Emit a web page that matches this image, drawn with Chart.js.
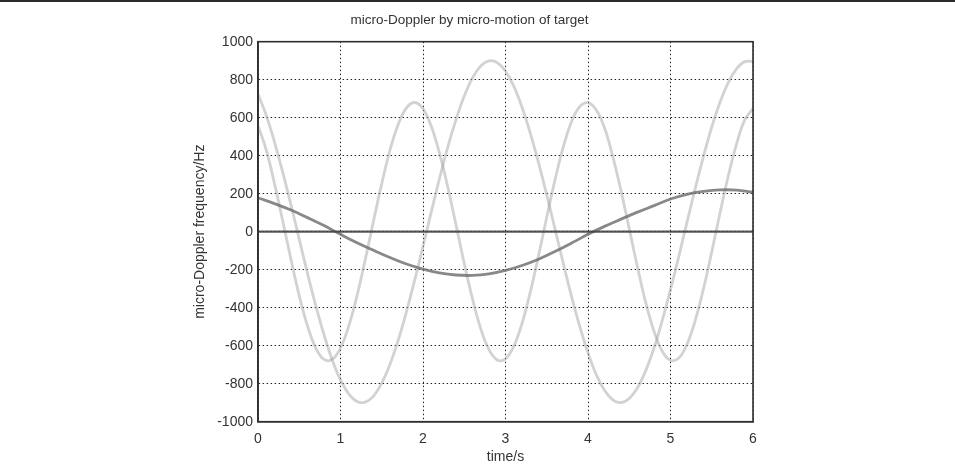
<!DOCTYPE html>
<html>
<head>
<meta charset="utf-8">
<script src="https://cdn.jsdelivr.net/npm/chart.js@4/dist/chart.umd.min.js"></script>
<style>
  html, body { margin: 0; padding: 0; background: #fff; }
  #wrap { position: relative; width: 955px; height: 476px; overflow: hidden; }
  #topline { position: absolute; left: 0; top: 0; width: 955px; height: 2px; background: #2a2a2a; }
  canvas { position: absolute; left: 0; top: 0; }
</style>
</head>
<body>
<div id="wrap">
  <canvas id="c" width="955" height="476"></canvas>
  <div id="topline"></div>
</div>
<script>
// ---- data ----
const timesFast = [0,0.1,0.2,0.3,0.4,0.5,0.6,0.7,0.8,0.9,1.0,1.1,1.2,1.3,1.4,1.5,1.6,1.7,1.8,1.9,2.0,2.1,2.2,2.3,2.4,2.5,2.6,2.7,2.8,2.9,3.0,3.1,3.2,3.3,3.4,3.5,3.6,3.7,3.8,3.9,4.0,4.1,4.2,4.3,4.4,4.5,4.6,4.7,4.8,4.9,5.0,5.1,5.2,5.3,5.4,5.5,5.6,5.7,5.8,5.9,6.0];
// large-amplitude component (~±900 Hz)
const seriesA = [725,612,472,312,140,-40,-219,-389,-542,-675,-780,-854,-894,-897,-865,-797,-698,-571,-420,-254,-77,103,280,445,590,714,810,872,899,890,845,766,655,519,364,194,14,-166,-340,-498,-638,-752,-835,-885,-900,-878,-821,-731,-612,-467,-305,-131,50,228,397,551,681,785,857,895,896];
// medium-amplitude component (~±680 Hz)
const seriesB = [558,430,253,56,-147,-337,-496,-612,-672,-672,-612,-496,-337,-147,56,253,430,566,652,680,647,555,413,235,36,-167,-354,-511,-621,-675,-669,-603,-483,-319,-127,77,273,445,579,658,679,640,547,397,216,15,-187,-373,-524,-629,-677,-665,-593,-467,-300,-106,98,293,461,589,648];
// slow body component (~±225 Hz)
const timesSlow = [0,0.2,0.4,0.6,0.8,1.0,1.2,1.4,1.6,1.8,2.0,2.2,2.4,2.6,2.8,3.0,3.2,3.4,3.6,3.8,4.0,4.2,4.4,4.6,4.8,5.0,5.2,5.4,5.6,5.8,6.0];
const seriesSlow = [178,148,114,74,32,-14,-58,-98,-136,-170,-197,-217,-228,-230,-222,-204,-178,-145,-104,-60,-14,28,66,103,137,172,197,212,220,219,208];
// zero-Doppler line
const timesZero = [0,6];
const seriesZero = [0,0];
const xTicks = [0,1,2,3,4,5,6];
const yTicks = [-1000,-800,-600,-400,-200,0,200,400,600,800,1000];

const toPts = (xs, ys) => xs.map((x, i) => ({x: x, y: ys[i]}));

const framePlugin = {
  id: 'frame',
  afterDatasetsDraw(chart) {
    const a = chart.chartArea, ctx = chart.ctx;
    ctx.save();
    ctx.strokeStyle = '#2e2e2e';
    ctx.lineWidth = 1.6;
    ctx.strokeRect(a.left, a.top, a.right - a.left, a.bottom - a.top);
    ctx.restore();
  }
};

const FONT = "'Liberation Sans', Arial, Helvetica, sans-serif";

new Chart(document.getElementById('c'), {
  type: 'line',
  data: {
    datasets: [
      { data: toPts(timesFast, seriesA), borderColor: 'rgba(165,165,165,0.5)', borderWidth: 2.8, pointRadius: 0, tension: 0.4, order: 4 },
      { data: toPts(timesFast, seriesB), borderColor: 'rgba(165,165,165,0.5)', borderWidth: 2.8, pointRadius: 0, tension: 0.4, order: 3 },
      { data: toPts(timesSlow, seriesSlow), borderColor: 'rgba(115,115,115,0.85)', borderWidth: 2.8, pointRadius: 0, tension: 0.4, order: 2 },
      { data: toPts(timesZero, seriesZero), borderColor: 'rgba(70,70,70,0.9)', borderWidth: 2.2, pointRadius: 0, tension: 0, order: 1 }
    ]
  },
  options: {
    responsive: false,
    animation: false,
    events: [],
    layout: { padding: { left: 186, right: 202, top: 4, bottom: 8 } },
    plugins: {
      legend: { display: false },
      tooltip: { enabled: false },
      title: {
        display: true,
        text: 'micro-Doppler by micro-motion of target',
        color: '#333',
        font: { family: FONT, size: 13.5, weight: 'normal' },
        padding: { top: 8, bottom: 13.5 }
      }
    },
    scales: {
      x: {
        type: 'linear', min: 0, max: 6,
        afterFit(s) { s.height = 46.3; },
        afterBuildTicks(s) { s.ticks = xTicks.map(v => ({value: v})); },
        ticks: { color: '#333', font: { family: FONT, size: 14 }, padding: 9, maxRotation: 0, callback: v => String(v) },
        grid: { color: '#222', lineWidth: 1, drawTicks: false },
        border: { display: true, color: '#2e2e2e', width: 1.6, dash: [1.5, 2.5] },
        title: { display: true, text: 'time/s', color: '#333', font: { family: FONT, size: 14 }, padding: { top: 0, bottom: 2 } }
      },
      y: {
        type: 'linear', min: -1000, max: 1000,
        afterFit(s) { s.width = 72; },
        afterBuildTicks(s) { s.ticks = yTicks.map(v => ({value: v})); },
        ticks: { color: '#333', font: { family: FONT, size: 14 }, padding: 5, callback: v => String(v) },
        grid: { color: '#222', lineWidth: 1, drawTicks: false },
        border: { display: true, color: '#2e2e2e', width: 1.6, dash: [1.5, 2.5] },
        title: { display: true, text: 'micro-Doppler frequency/Hz', color: '#333', font: { family: FONT, size: 14 }, padding: { top: 6, bottom: 0 } }
      }
    }
  },
  plugins: [framePlugin]
});
</script>
</body>
</html>
